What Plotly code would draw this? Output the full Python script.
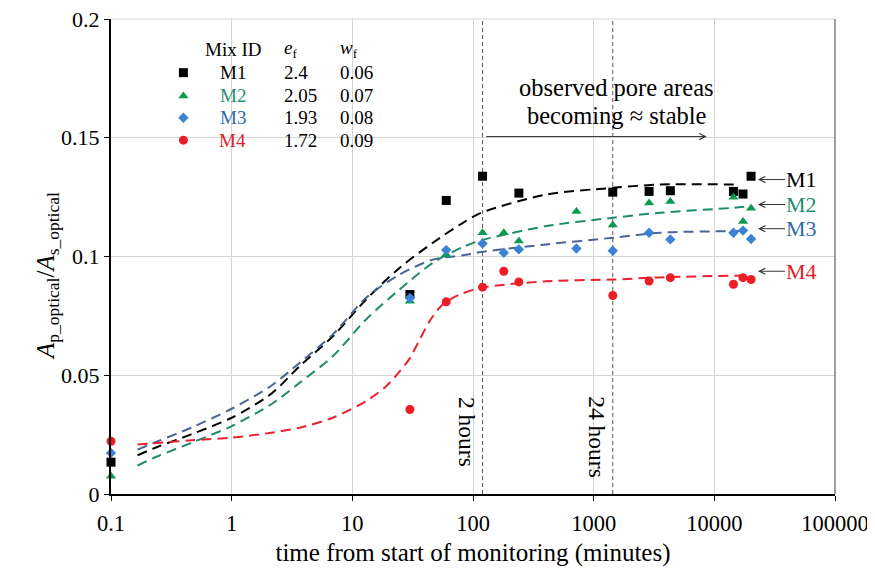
import plotly.graph_objects as go
import numpy as np

# ---------------- data ----------------
mix_ids = ["M1", "M2", "M3", "M4"]
e_f = ["2.4", "2.05", "1.93", "1.72"]
w_f = ["0.06", "0.07", "0.08", "0.09"]

t_m1 = [0.1, 30, 60, 120, 240, 1440, 2880, 4320, 14400, 17280, 20160]
a_m1 = [0.0134, 0.084, 0.1236, 0.1338, 0.1267, 0.1271, 0.1274, 0.1277, 0.1274, 0.1263, 0.1338]

t_m2 = [0.1, 30, 60, 120, 180, 240, 720, 1440, 2880, 4320, 14400, 17280, 20160]
a_m2 = [0.0075, 0.0812, 0.1008, 0.110, 0.110, 0.1065, 0.1189, 0.1133, 0.1225, 0.1232, 0.1249, 0.1147, 0.1203]

t_m3 = [0.1, 30, 60, 120, 180, 240, 720, 1440, 2880, 4320, 14400, 17280, 20160]
a_m3 = [0.0173, 0.0825, 0.1027, 0.1055, 0.1016, 0.103, 0.1034, 0.1024, 0.110, 0.1072, 0.110, 0.1109, 0.1074]

t_m4 = [0.1, 30, 60, 120, 180, 240, 1440, 2880, 4320, 14400, 17280, 20160]
a_m4 = [0.0222, 0.0356, 0.0809, 0.0871, 0.0938, 0.0893, 0.0836, 0.0897, 0.0911, 0.0883, 0.0911, 0.0903]

# fitted curves
fit_t_m1 = [0.166, 0.244, 0.461, 1, 2.13, 3.65, 6.89, 13, 24.6, 46.5, 82.5, 117, 405, 1445, 3524, 15500]
fit_a_m1 = [0.0163, 0.0199, 0.0251, 0.0321, 0.0422, 0.0538, 0.0664, 0.0819, 0.0952, 0.1058, 0.1142, 0.1184, 0.1261, 0.1289, 0.1303, 0.1303]

fit_t_m2 = [0.166, 0.244, 0.461, 1, 2.13, 3.65, 6.89, 13, 24.6, 46.5, 82.5, 117, 405, 1445, 3524, 14300, 20000]
fit_a_m2 = [0.012, 0.0159, 0.0215, 0.0286, 0.0378, 0.0468, 0.058, 0.0735, 0.0861, 0.0973, 0.1040, 0.1068, 0.1128, 0.1163, 0.1184, 0.1205, 0.1212]

fit_t_m3 = [0.166, 0.244, 0.461, 1, 2.13, 3.65, 6.89, 13, 24.6, 46.5, 82.5, 117, 405, 1445, 3524, 16500]
fit_a_m3 = [0.0187, 0.0222, 0.0279, 0.0359, 0.0456, 0.0552, 0.0672, 0.0826, 0.0924, 0.0987, 0.1005, 0.1019, 0.1051, 0.1079, 0.110, 0.1107]

fit_t_m4 = [0.166, 0.244, 0.461, 1, 2.13, 3.65, 6.89, 13, 19.1, 24.6, 29.8, 36.1, 43.7, 52.8, 60.3, 77.4, 117, 405, 1445, 3524, 17500]
fit_a_m4 = [0.0208, 0.0215, 0.0226, 0.0237, 0.0258, 0.0279, 0.0321, 0.0391, 0.0454, 0.0515, 0.057, 0.065, 0.0728, 0.0785, 0.081, 0.084, 0.0868, 0.0896, 0.0903, 0.0912, 0.092]

marker_times = [120, 1440]
marker_labels = ["2 hours", "24 hours"]

# ---------------- styles ----------------
FONT = "Liberation Serif"
mk_colors = ["#000000", "#0c9a50", "#3b82d6", "#ee1c24"]
ln_colors = ["#000000", "#1c8c6c", "#4a6496", "#e8222e"]
tx_colors = ["#000000", "#1f8f6e", "#2e6aad", "#e0202a"]
symbols = ["square", "triangle-up", "diamond", "circle"]
sizes = [9, 9, 8, 9]

obs = [(t_m1, a_m1), (t_m2, a_m2), (t_m3, a_m3), (t_m4, a_m4)]
fits = [(fit_t_m1, fit_a_m1), (fit_t_m2, fit_a_m2), (fit_t_m3, fit_a_m3), (fit_t_m4, fit_a_m4)]

fig = go.Figure()

# vertical dashed reference lines
for t in marker_times:
    fig.add_trace(go.Scatter(x=[t, t], y=[0, 0.2], mode="lines",
                             line=dict(color="#555555", width=1, dash="4px,3px"),
                             showlegend=False, hoverinfo="skip"))

for i in range(4):
    ft, fa = fits[i]
    fig.add_trace(go.Scatter(x=ft, y=fa, mode="lines",
                             line=dict(color=ln_colors[i], width=2, dash="10px,6px", shape="spline", smoothing=0.8),
                             showlegend=False, hoverinfo="skip"))

for i in range(4):
    t, a = obs[i]
    fig.add_trace(go.Scatter(x=t, y=a, mode="markers",
                             marker=dict(symbol=symbols[i], size=sizes[i], color=mk_colors[i], line=dict(width=0)),
                             showlegend=False, cliponaxis=False))

# legend table markers (overlay axis in plot-fraction units)
LEG_X_MARK = 0.10
LEG_X_ID = 0.168
LEG_X_E = 0.236
LEG_X_W = 0.313
LEG_Y_HEAD = 0.936
LEG_ROWS = [0.887, 0.838, 0.792, 0.745]

for i in range(4):
    fig.add_trace(go.Scatter(x=[LEG_X_MARK], y=[LEG_ROWS[i]], mode="markers", xaxis="x2", yaxis="y2",
                             marker=dict(symbol=symbols[i], size=sizes[i], color=mk_colors[i]),
                             showlegend=False, hoverinfo="skip"))

ann = []
LS = 19
lf = dict(family=FONT, size=LS, color="black")
ann.append(dict(x=LEG_X_ID, y=LEG_Y_HEAD, xref="paper", yref="paper", text="Mix ID", showarrow=False,
                xanchor="center", yanchor="middle", font=lf))
ann.append(dict(x=LEG_X_E, y=LEG_Y_HEAD, xref="paper", yref="paper", text="<i>e</i><sub>f</sub>", showarrow=False,
                xanchor="left", yanchor="middle", font=lf))
ann.append(dict(x=LEG_X_W, y=LEG_Y_HEAD, xref="paper", yref="paper", text="<i>w</i><sub>f</sub>", showarrow=False,
                xanchor="left", yanchor="middle", font=lf))
for i in range(4):
    ann.append(dict(x=LEG_X_ID, y=LEG_ROWS[i], xref="paper", yref="paper", text=mix_ids[i], showarrow=False,
                    xanchor="center", yanchor="middle", font=dict(family=FONT, size=LS, color=tx_colors[i])))
    ann.append(dict(x=LEG_X_E, y=LEG_ROWS[i], xref="paper", yref="paper", text=e_f[i], showarrow=False,
                    xanchor="left", yanchor="middle", font=lf))
    ann.append(dict(x=LEG_X_W, y=LEG_ROWS[i], xref="paper", yref="paper", text=w_f[i], showarrow=False,
                    xanchor="left", yanchor="middle", font=lf))

# y-axis title (placed as annotation, slightly below centre as in the original)
ann.append(dict(x=0, y=0.458, xref="paper", yref="paper", xshift=-81, textangle=-90, showarrow=False,
                text="<i>A</i><sub>p_optical</sub>/<i>A</i><sub>s_optical</sub>",
                font=dict(family=FONT, size=25, color="black")))

# right-side labels with arrows
label_tip_x = np.log10(23000)
label_y = [0.1324, 0.1219, 0.1117, 0.0938]
for i in range(4):
    ann.append(dict(x=label_tip_x, y=label_y[i], xref="x", yref="y", text=mix_ids[i],
                    showarrow=True, ax=44, ay=0, arrowhead=5, arrowsize=1.2, arrowwidth=1, arrowcolor="#333333",
                    font=dict(family=FONT, size=22, color=tx_colors[i])))

# time markers text
for t, lab, sh, yy in zip(marker_times, marker_labels, [-15, -16], [0.0263, 0.024]):
    ann.append(dict(x=np.log10(t), y=yy, xref="x", yref="y", text=lab, showarrow=False, textangle=90,
                    xshift=sh, font=dict(family=FONT, size=23.5, color="black")))

# stable region annotation
ann.append(dict(x=np.log10(8650), y=0.1505, xref="x", yref="y", ax=np.log10(125), ay=0.1505, axref="x", ayref="y",
                text="", showarrow=True, arrowhead=5, arrowsize=1.2, arrowwidth=1, arrowcolor="#333333"))
ann.append(dict(x=np.log10(1553), y=0.1712, xref="x", yref="y", text="observed pore areas",
                showarrow=False, font=dict(family=FONT, size=24.5, color="black")))
ann.append(dict(x=np.log10(1553), y=0.1594, xref="x", yref="y", text="becoming ≈ stable",
                showarrow=False, font=dict(family=FONT, size=24.5, color="black")))

# page body has an 8px offset, so margins compensate
fig.update_layout(
    width=875, height=577,
    margin=dict(l=103, r=48, t=11, b=91, autoexpand=False),
    paper_bgcolor="white", plot_bgcolor="white",
    font=dict(family=FONT, size=22, color="black"),
    annotations=ann,
    xaxis=dict(type="log", range=[-1, 5], tickvals=[0.1, 1, 10, 100, 1000, 10000, 100000],
               ticktext=["0.1", "1", "10", "100", "1000", "10000", "100000"], automargin=False,
               showgrid=True, gridcolor="#d4d4d4", gridwidth=1, zeroline=False, ticklabeloverflow="allow",
               showline=True, linecolor="black", linewidth=2, ticks="outside", ticklen=5, tickcolor="black",
               tickfont=dict(family=FONT, size=22.5), ticklabelstandoff=3,
               title=dict(text="time from start of monitoring (minutes)", font=dict(family=FONT, size=25), standoff=8)),
    yaxis=dict(range=[0, 0.2], tickvals=[0, 0.05, 0.1, 0.15, 0.2], ticktext=["0", "0.05", "0.1", "0.15", "0.2"],
               automargin=False, ticklabeloverflow="allow",
               showgrid=True, gridcolor="#d4d4d4", gridwidth=1, zeroline=False,
               showline=True, linecolor="black", linewidth=2, ticks="outside", ticklen=5, tickcolor="black",
               tickfont=dict(family=FONT, size=22)),
    xaxis2=dict(overlaying="x", range=[0, 1], visible=False),
    yaxis2=dict(overlaying="y", range=[0, 1], visible=False),
    shapes=[dict(type="line", xref="paper", yref="paper", x0=1, x1=1, y0=0, y1=1,
                 line=dict(color="#7f7f7f", width=1.5)),
            dict(type="line", xref="paper", yref="paper", x0=0, x1=1, y0=1, y1=1,
                 line=dict(color="#d4d4d4", width=1), layer="below")],
)

fig.write_html("out.html")
